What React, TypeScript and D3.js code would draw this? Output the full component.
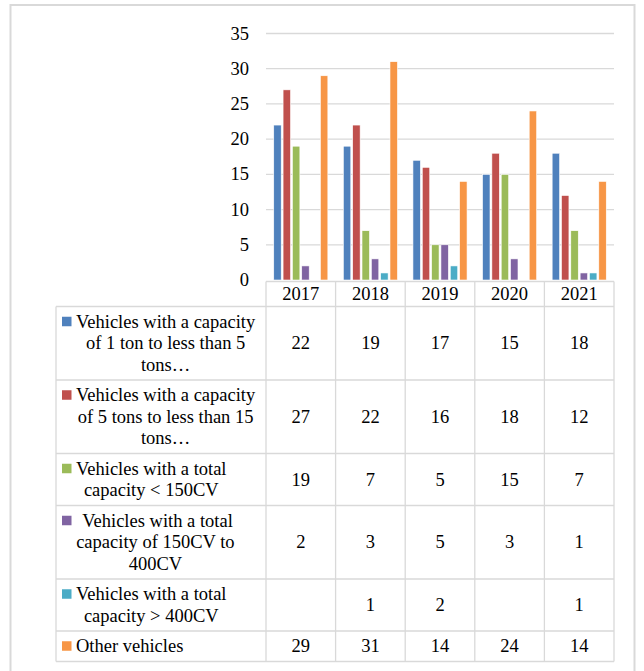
import React from "react";
import * as d3 from "d3";

const years = ["2017", "2018", "2019", "2020", "2021"];
const seriesNames = [
  "Vehicles with a capacity of 1 ton to less than 5 tons…",
  "Vehicles with a capacity of 5 tons to less than 15 tons…",
  "Vehicles with a total capacity < 150CV",
  "Vehicles with a total capacity of 150CV to 400CV",
  "Vehicles with a total capacity > 400CV",
  "Other vehicles",
];
const labelLines = [
  ["Vehicles with a capacity", "of 1 ton to less than 5", "tons…"],
  ["Vehicles with a capacity", "of 5 tons to less than 15", "tons…"],
  ["Vehicles with a total", "capacity < 150CV"],
  [" Vehicles with a total", "capacity of 150CV to", "400CV"],
  ["Vehicles with a total", "capacity > 400CV"],
  ["Other vehicles"],
];
const light1to5 = [22, 19, 17, 15, 18];
const medium5to15 = [27, 22, 16, 18, 12];
const under150 = [19, 7, 5, 15, 7];
const from150to400 = [2, 3, 5, 3, 1];
const over400: (number | null)[] = [null, 1, 2, null, 1];
const otherVehicles = [29, 31, 14, 24, 14];
const seriesValues: (number | null)[][] = [light1to5, medium5to15, under150, from150to400, over400, otherVehicles];
const colors = ["#4F81BD", "#C0504D", "#9BBB59", "#8064A2", "#4BACC6", "#F79646"];
const yTicks = [0, 5, 10, 15, 20, 25, 30, 35];

const FONT = "'Liberation Serif', 'Times New Roman', serif";
const FS = 18.5;

let ctx: CanvasRenderingContext2D | null = null;
function measure(t: string) {
  if (!ctx) {
    const c = document.createElement("canvas");
    ctx = c.getContext("2d");
  }
  if (!ctx) return t.length * 8;
  ctx.font = `${FS}px ${FONT}`;
  return ctx.measureText(t).width;
}

export default function App() {
  const W = 644, H = 671;
  const plotLeft = 266, plotRight = 614;
  const y = d3.scaleLinear().domain([0, 35]).range([280, 33.5]);
  const x0 = d3.scaleBand<string>().domain(years).range([plotLeft, plotRight]).paddingInner(0).paddingOuter(0);
  const x1 = d3.scaleBand<number>().domain(d3.range(6)).range([0, x0.bandwidth()]).paddingInner(0.2).paddingOuter(0.83);

  const grid = "#d9d9d9";
  const tableTop = y(0) + 1.5;
  const headerH = 25;
  const lineH = 21.5;
  const rowHeights = labelLines.map((l) => l.length * lineH + 9);
  const rowTops: number[] = [];
  let acc = tableTop + headerH;
  rowHeights.forEach((h) => { rowTops.push(acc); acc += h; });
  const tableBottom = acc;
  const labelLeft = 56;
  const textLeft = 76;

  return (
    <div style={{ position: "absolute", left: 0, top: 0 }}>
      <svg width={W} height={H} style={{ display: "block", fontFamily: FONT }}>
        <rect x={0} y={0} width={W} height={H} fill="#fff" />
        <rect x={10.5} y={5} width={624} height={670} fill="none" stroke={grid} strokeWidth={2} />
        {yTicks.filter((t) => t > 0).map((t) => (
          <line key={t} x1={plotLeft} x2={plotRight} y1={y(t)} y2={y(t)} stroke={grid} strokeWidth={1.3} />
        ))}
        {yTicks.map((t) => (
          <text key={t} x={249} y={y(t)} textAnchor="end" dominantBaseline="central" fontSize={FS} fill="#000">{t}</text>
        ))}
        {years.map((yr, i) => (
          <g key={yr} transform={`translate(${x0(yr)},0)`}>
            {seriesValues.map((vals, s) => {
              const v = vals[i];
              if (v == null || v === 0) return null;
              return (
                <rect key={s} x={x1(s)} y={y(v)} width={x1.bandwidth()} height={y(0) - y(v)} fill={colors[s]} stroke="#fff" strokeWidth={0.6} />
              );
            })}
          </g>
        ))}
        {/* table */}
        <g stroke={grid} strokeWidth={1.3} fill="none">
          <line x1={plotLeft} x2={plotRight} y1={tableTop} y2={tableTop} />
          <line x1={labelLeft} x2={plotRight} y1={tableTop + headerH} y2={tableTop + headerH} />
          {rowTops.map((t, r) => (
            <line key={r} x1={labelLeft} x2={plotRight} y1={t + rowHeights[r]} y2={t + rowHeights[r]} />
          ))}
          <line x1={labelLeft} x2={labelLeft} y1={tableTop + headerH} y2={tableBottom} />
          {years.map((yr) => (
            <line key={yr} x1={x0(yr)!} x2={x0(yr)!} y1={tableTop} y2={tableBottom} />
          ))}
          <line x1={plotRight} x2={plotRight} y1={tableTop} y2={tableBottom} />
        </g>
        {years.map((yr) => (
          <text key={yr} x={x0(yr)! + x0.bandwidth() / 2} y={tableTop + headerH / 2} textAnchor="middle" dominantBaseline="central" fontSize={FS}>{yr}</text>
        ))}
        {labelLines.map((lines, r) => {
          const top = rowTops[r];
          const h = rowHeights[r];
          const mid = top + h / 2;
          const maxW = d3.max(lines, (l) => measure(l)) || 0;
          const cx = textLeft + maxW / 2;
          const firstY = mid - ((lines.length - 1) * lineH) / 2;
          return (
            <g key={r}>
              <rect x={62} y={firstY - 5} width={9.5} height={9.5} fill={colors[r]} />
              {lines.map((l, k) => (
                <text key={k} x={cx} y={firstY + k * lineH} textAnchor="middle" dominantBaseline="central" fontSize={FS} style={{ whiteSpace: "pre" }}>{l}</text>
              ))}
              {years.map((yr, i) => {
                const v = seriesValues[r][i];
                if (v == null) return null;
                return (
                  <text key={yr} x={x0(yr)! + x0.bandwidth() / 2} y={mid} textAnchor="middle" dominantBaseline="central" fontSize={FS}>{v}</text>
                );
              })}
            </g>
          );
        })}
      </svg>
    </div>
  );
}
